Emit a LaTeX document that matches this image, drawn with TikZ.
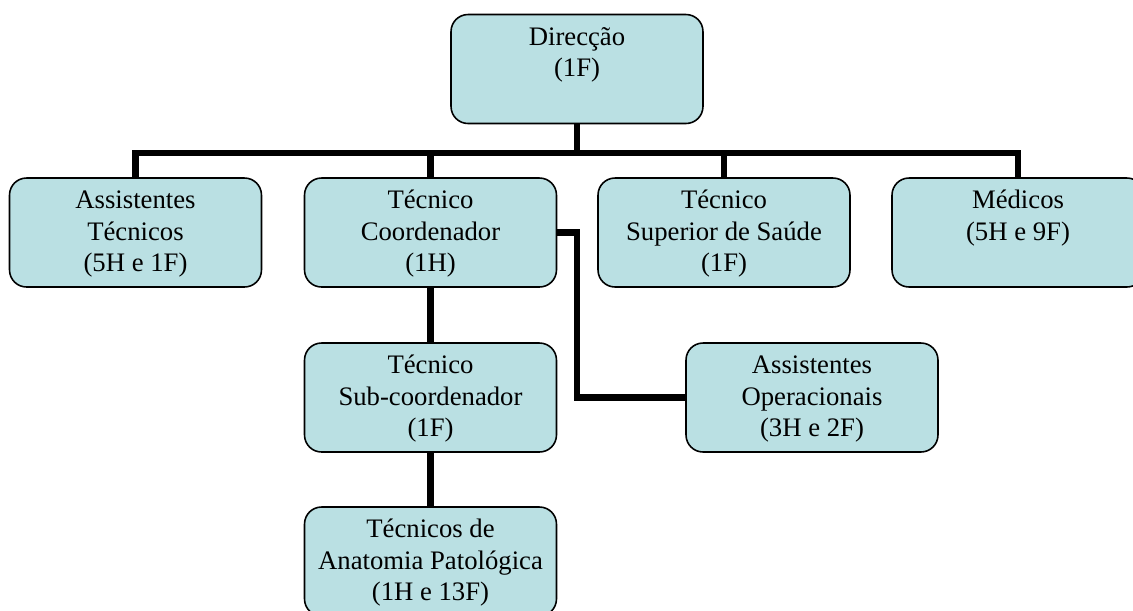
\documentclass[tikz,border=0pt]{standalone}
\usepackage{fontspec}
\setmainfont{Liberation Serif}
\usetikzlibrary{backgrounds}
\definecolor{boxfill}{RGB}{186,224,227}
\newcommand{\boxtext}[1]{\parbox[c][2.18cm][t]{5.04cm}{\centering\fontsize{15.2}{18}\selectfont\rule{0pt}{0.61cm}#1}}
\tikzset{
unit/.style={draw, line width=0.9pt, fill=boxfill, rounded corners=0.34cm, inner sep=0pt},
link/.style={line width=0.13cm, black},
}

\begin{document}
\begin{tikzpicture}[x=0.02cm, y=-0.02cm]
\clip (0,0) rectangle (1133,610);
\node[unit] (dir) at (577,69) {\boxtext{Direcção\\(1F)}};
%
\node[unit] (at) at (135.5,232.5) {\boxtext{Assistentes\\Técnicos\\(5H e 1F)}};
\node[unit] (tc) at (430.5,232.5) {\boxtext{Técnico\\Coordenador\\(1H)}};
\node[unit] (ts) at (724,232.5) {\boxtext{Técnico\\Superior de Saúde\\(1F)}};
\node[unit] (med) at (1018,232.5) {\boxtext{Médicos\\(5H e 9F)}};
%
\node[unit] (sub) at (430.5,397.5) {\boxtext{Técnico\\Sub-coordenador\\(1F)}};
\node[unit] (ao) at (812,397.5) {\boxtext{Assistentes\\Operacionais\\(3H e 2F)}};
\node[unit] (ta) at (430.5,561.5) {\boxtext{Técnicos de\\Anatomia Patológica\\(1H e 13F)}};
%
\coordinate (bus) at (577,153);
%
\begin{scope}[on background layer]
\draw[link] (dir.south) -- (bus);
\draw[link] (at.north) |- (bus) -| (med.north);
\draw[link] (tc.north) -- (tc.north |- bus);
\draw[link] (ts.north) -- (ts.north |- bus);
%
\draw[link] (tc.east) -- (tc.east -| dir.south) |- (ao.west);
\draw[link] (tc.south) -- (sub.north);
\draw[link] (sub.south) -- (ta.north);
\end{scope}
\end{tikzpicture}
\end{document}
